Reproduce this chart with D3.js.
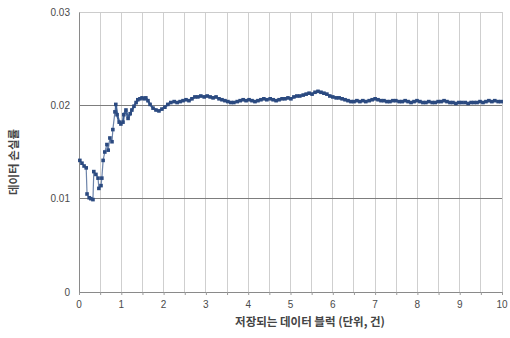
<!DOCTYPE html>
<html>
<head>
<meta charset="utf-8">
<script src="https://cdn.jsdelivr.net/npm/d3@7"></script>
<style>
  html, body { margin: 0; padding: 0; background: #fff; }
  svg { display: block; }
</style>
</head>
<body>
<svg id="chart" width="510" height="338"></svg>
<script>
// Stored data blocks (thousands) and the observed data loss rate
const blocks = [
  0.02, 0.07, 0.12, 0.17, 0.19, 0.24, 0.28, 0.33, 0.35, 0.40, 0.45, 0.47, 0.52, 0.54, 0.57, 0.61,
  0.66, 0.69, 0.73, 0.78, 0.80, 0.85, 0.87, 0.90, 0.95, 0.99, 1.04, 1.06, 1.11, 1.16, 1.21, 1.25,
  1.30, 1.35, 1.39, 1.44, 1.49, 1.54, 1.58, 1.63, 1.68, 1.75, 1.82, 1.89, 1.96, 2.03, 2.10, 2.17,
  2.25, 2.32, 2.39, 2.46, 2.53, 2.60, 2.67, 2.74, 2.81, 2.88, 2.96, 3.03, 3.10, 3.17, 3.24, 3.31,
  3.38, 3.45, 3.52, 3.59, 3.66, 3.74, 3.81, 3.88, 3.95, 4.02, 4.09, 4.16, 4.23, 4.30, 4.37, 4.44,
  4.52, 4.59, 4.66, 4.73, 4.80, 4.87, 4.94, 5.01, 5.08, 5.15, 5.22, 5.30, 5.37, 5.44, 5.51, 5.58,
  5.65, 5.72, 5.79, 5.86, 5.93, 6.00, 6.08, 6.15, 6.22, 6.29, 6.36, 6.43, 6.50, 6.57, 6.64, 6.71,
  6.78, 6.86, 6.93, 7.00, 7.07, 7.14, 7.21, 7.28, 7.35, 7.42, 7.49, 7.57, 7.64, 7.71, 7.78, 7.85,
  7.92, 7.99, 8.06, 8.13, 8.20, 8.27, 8.35, 8.42, 8.49, 8.56, 8.63, 8.70, 8.77, 8.84, 8.91, 8.98,
  9.05, 9.13, 9.20, 9.27, 9.34, 9.41, 9.48, 9.55, 9.62, 9.69, 9.76, 9.83, 9.91, 9.98
];
const lossRate = [
  0.0141, 0.0138, 0.0135, 0.0133, 0.0105, 0.0101, 0.0100, 0.0099, 0.0129, 0.0126, 0.0122, 0.0111, 0.0114, 0.0122, 0.0141, 0.0150,
  0.0158, 0.0152, 0.0165, 0.0161, 0.0174, 0.0193, 0.0201, 0.0190, 0.0182, 0.0180, 0.0182, 0.0190, 0.0195, 0.0186, 0.0191, 0.0195,
  0.0199, 0.0203, 0.0206, 0.0207, 0.0208, 0.0207, 0.0208, 0.0205, 0.0201, 0.0197, 0.0195, 0.0194, 0.0196, 0.0198, 0.0201, 0.0203,
  0.0204, 0.0203, 0.0204, 0.0205, 0.0206, 0.0205, 0.0207, 0.0209, 0.0209, 0.0210, 0.0209, 0.0210, 0.0209, 0.0208, 0.0209, 0.0207,
  0.0206, 0.0205, 0.0204, 0.0203, 0.0203, 0.0204, 0.0205, 0.0206, 0.0205, 0.0206, 0.0205, 0.0204, 0.0205, 0.0206, 0.0207, 0.0206,
  0.0207, 0.0206, 0.0205, 0.0206, 0.0207, 0.0207, 0.0208, 0.0207, 0.0209, 0.0210, 0.0210, 0.0211, 0.0212, 0.0213, 0.0212, 0.0214,
  0.0215, 0.0214, 0.0213, 0.0212, 0.0210, 0.0209, 0.0208, 0.0208, 0.0207, 0.0206, 0.0205, 0.0204, 0.0204, 0.0205, 0.0204, 0.0205,
  0.0204, 0.0205, 0.0206, 0.0207, 0.0206, 0.0205, 0.0205, 0.0204, 0.0204, 0.0205, 0.0205, 0.0204, 0.0204, 0.0205, 0.0204, 0.0203,
  0.0204, 0.0205, 0.0204, 0.0203, 0.0203, 0.0204, 0.0203, 0.0203, 0.0204, 0.0204, 0.0205, 0.0204, 0.0203, 0.0203, 0.0202, 0.0203,
  0.0203, 0.0203, 0.0202, 0.0203, 0.0203, 0.0203, 0.0204, 0.0203, 0.0204, 0.0205, 0.0204, 0.0205, 0.0204, 0.0204
];
const xTicks = [0, 1, 2, 3, 4, 5, 6, 7, 8, 9, 10];
const xGrid = d3.range(0, 10.01, 0.5);
const yTicks = [0, 0.01, 0.02, 0.03];
const yTickLabels = ["0", "0.01", "0.02", "0.03"];
const xTitle = "저장되는 데이터 블럭 (단위, 건)";
const yTitle = "데이터 손실률";

const svg = d3.select("#chart");
const margin = { top: 12, right: 8, bottom: 46, left: 79 };
const W = 510, H = 338;
const iw = W - margin.left - margin.right;
const ih = H - margin.top - margin.bottom;

const x = d3.scaleLinear().domain([0, 10]).range([0, iw]);
const y = d3.scaleLinear().domain([0, 0.03]).range([ih, 0]);

const g = svg.append("g").attr("transform", `translate(${margin.left},${margin.top})`);

// vertical grid every half unit
g.append("g").selectAll("line").data(xGrid).join("line")
  .attr("x1", d => x(d)).attr("x2", d => x(d))
  .attr("y1", 0).attr("y2", ih)
  .attr("stroke", "#cfcfcf").attr("stroke-width", 1).attr("shape-rendering", "crispEdges");

// horizontal grid
g.append("g").selectAll("line").data(yTicks.filter(d => d > 0)).join("line")
  .attr("x1", 0).attr("x2", iw)
  .attr("y1", d => y(d)).attr("y2", d => y(d))
  .attr("stroke", d => d === 0.03 ? "#cccccc" : "#7d7d7d").attr("stroke-width", 1)
  .attr("shape-rendering", "crispEdges");

// bottom axis
const xAxis = d3.axisBottom(x).tickValues(xGrid).tickSize(3).tickFormat("");
const xa = g.append("g").attr("transform", `translate(0,${ih})`).call(xAxis);
xa.select(".domain").attr("stroke", "#8a8a8a");
xa.selectAll(".tick line").attr("stroke", "#9a9a9a");
g.append("g").selectAll("text").data(xTicks).join("text")
  .attr("x", d => x(d)).attr("y", ih + 16)
  .attr("text-anchor", "middle")
  .attr("font-family", "Liberation Sans, Arial, sans-serif")
  .attr("font-size", 10).attr("fill", "#4a4a4a")
  .text(d => d);

// left axis
const yAxis = d3.axisLeft(y).tickValues(yTicks).tickSize(0).tickPadding(9)
  .tickFormat((d, i) => yTickLabels[i]);
const ya = g.append("g").call(yAxis);
ya.select(".domain").attr("stroke", "#8a8a8a");
ya.selectAll("text")
  .attr("font-family", "Liberation Sans, Arial, sans-serif")
  .attr("font-size", 10).attr("fill", "#4a4a4a");

// loss-rate series: the sparse start is drawn thinner, the settled part thicker
const pts = blocks.map((b, i) => [b, lossRate[i]]);
const line = d3.line().x(d => x(d[0])).y(d => y(d[1]));
const early = pts.filter(d => d[0] <= 0.9);
const late = pts.filter(d => d[0] >= 0.87);
g.append("path").datum(early)
  .attr("d", line)
  .attr("fill", "none")
  .attr("stroke", "#6d84aa")
  .attr("stroke-width", 1.2)
  .attr("stroke-linejoin", "round");
g.append("path").datum(late)
  .attr("d", line)
  .attr("fill", "none")
  .attr("stroke", "#3d5f94")
  .attr("stroke-width", 2.2)
  .attr("stroke-linejoin", "round");
g.append("g").selectAll("rect").data(pts).join("rect")
  .attr("x", d => x(d[0]) - 1.8).attr("y", d => y(d[1]) - 1.8)
  .attr("width", 3.6).attr("height", 3.6)
  .attr("fill", "#2b4a80");

// axis titles
svg.append("text")
  .attr("x", 310).attr("y", H - 12)
  .attr("text-anchor", "middle")
  .attr("font-family", "Noto Sans CJK KR, sans-serif")
  .attr("font-size", 11.5).attr("font-weight", "bold").attr("fill", "#444")
  .text(xTitle);
svg.append("text")
  .attr("transform", `translate(18,${margin.top + 150}) rotate(-90)`)
  .attr("text-anchor", "middle")
  .attr("font-family", "Noto Sans CJK KR, sans-serif")
  .attr("font-size", 11.5).attr("font-weight", "bold").attr("fill", "#444")
  .text(yTitle);
</script>
</body>
</html>
